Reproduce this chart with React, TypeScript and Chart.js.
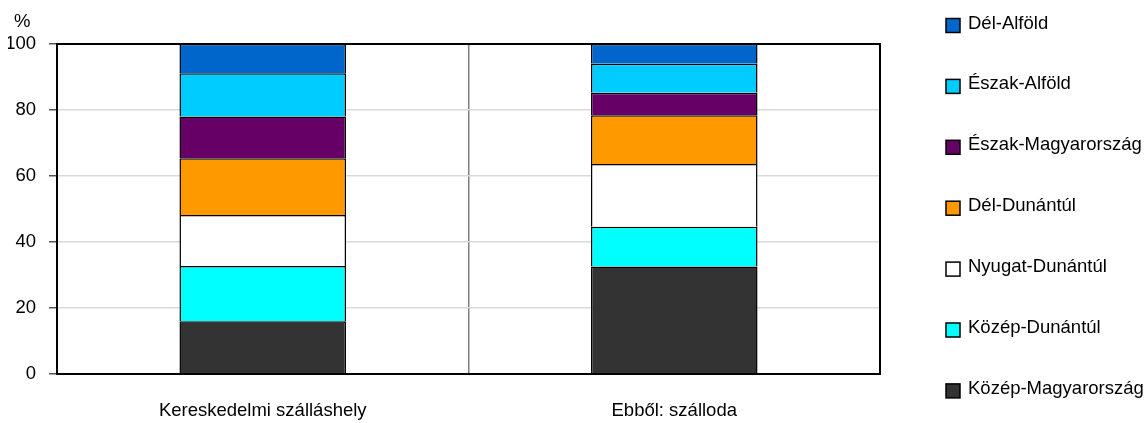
import React, { useEffect, useRef } from "react";
import { Chart, registerables } from "chart.js";

Chart.register(...registerables);

const categories = ["Kereskedelmi szálláshely", "Ebből: szálloda"];
const seriesNames = [
  "Közép-Magyarország",
  "Közép-Dunántúl",
  "Nyugat-Dunántúl",
  "Dél-Dunántúl",
  "Észak-Magyarország",
  "Észak-Alföld",
  "Dél-Alföld",
];
const kozepMagyarorszag = [16.0, 32.6];
const kozepDunantul = [16.7, 12.0];
const nyugatDunantul = [15.5, 19.0];
const delDunantul = [17.2, 14.8];
const eszakMagyarorszag = [12.6, 6.8];
const eszakAlfold = [13.1, 8.8];
const delAlfold = [8.9, 6.0];
const seriesValues = [
  kozepMagyarorszag,
  kozepDunantul,
  nyugatDunantul,
  delDunantul,
  eszakMagyarorszag,
  eszakAlfold,
  delAlfold,
];
const seriesColors = ["#333333", "#00FFFF", "#FFFFFF", "#FF9900", "#660066", "#00CCFF", "#0066CC"];
const yTicks = [0, 20, 40, 60, 80, 100];
const unitLabel = "%";

const FONT = "'Liberation Sans', Arial, sans-serif";
const FSIZE = 18.5;

const extrasPlugin = {
  id: "extras",
  afterDraw(chart: any) {
    const ctx = chart.ctx;
    const area = chart.chartArea;
    ctx.save();
    // frame
    ctx.strokeStyle = "#000";
    ctx.lineWidth = 2;
    ctx.strokeRect(area.left, area.top, area.right - area.left, area.bottom - area.top);
    // unit label
    ctx.fillStyle = "#000";
    ctx.font = `${FSIZE}px ${FONT}`;
    ctx.textAlign = "left";
    ctx.textBaseline = "middle";
    ctx.fillText(unitLabel, 14, 22);
    // legend (reversed order)
    const ds = chart.data.datasets;
    const n = ds.length;
    for (let i = 0; i < n; i++) {
      const d = ds[n - 1 - i];
      const cy = 25.5 + i * 60.9;
      ctx.fillStyle = d.backgroundColor;
      ctx.fillRect(946, cy - 7, 14, 14);
      ctx.strokeStyle = "#000";
      ctx.lineWidth = 1.5;
      ctx.strokeRect(946, cy - 7, 14, 14);
      ctx.fillStyle = "#000";
      ctx.fillText(d.label, 968, cy - 2);
    }
    ctx.restore();
  },
};

export default function App() {
  const ref = useRef<HTMLCanvasElement>(null);
  useEffect(() => {
    if (!ref.current) return;
    const chart = new Chart(ref.current, {
      type: "bar",
      data: {
        labels: categories,
        datasets: seriesNames.map((name, i) => ({
          label: name,
          data: seriesValues[i],
          backgroundColor: seriesColors[i],
          borderColor: "#000",
          borderWidth: 1.5,
          categoryPercentage: 0.8,
          barPercentage: 0.506,
        })),
      },
      options: {
        responsive: true,
        maintainAspectRatio: false,
        animation: false,
        layout: { padding: { left: 8, top: 44, right: 268, bottom: 0 } },
        plugins: { legend: { display: false }, tooltip: { enabled: false } },
        scales: {
          x: {
            stacked: true,
            grid: {
              display: true,
              drawTicks: false,
              color: (c: any) => (c.index === 1 ? "#808080" : "rgba(0,0,0,0)"),
              lineWidth: 1.5,
            },
            border: { display: true, color: "#000", width: 2 },
            ticks: { color: "#000", font: { family: FONT, size: FSIZE }, padding: 26 },
            afterFit: (s: any) => {
              s.height = 49;
            },
          },
          y: {
            stacked: true,
            min: 0,
            max: 100,
            afterBuildTicks: (s: any) => {
              s.ticks = yTicks.map((v) => ({ value: v }));
            },
            grid: {
              color: "#D9D9D9",
              tickColor: "#555",
              tickLength: 8,
              lineWidth: 1.5,
            },
            border: { display: true, color: "#000", width: 2 },
            ticks: { color: "#000", font: { family: FONT, size: FSIZE }, padding: 13 },
            afterFit: (s: any) => {
              s.width = 49;
            },
          },
        },
      },
      plugins: [extrasPlugin],
    });
    return () => chart.destroy();
  }, []);
  return (
    <div style={{ position: "absolute", left: 0, top: 0, width: 1148, height: 423, background: "#fff" }}>
      <canvas ref={ref} />
    </div>
  );
}
